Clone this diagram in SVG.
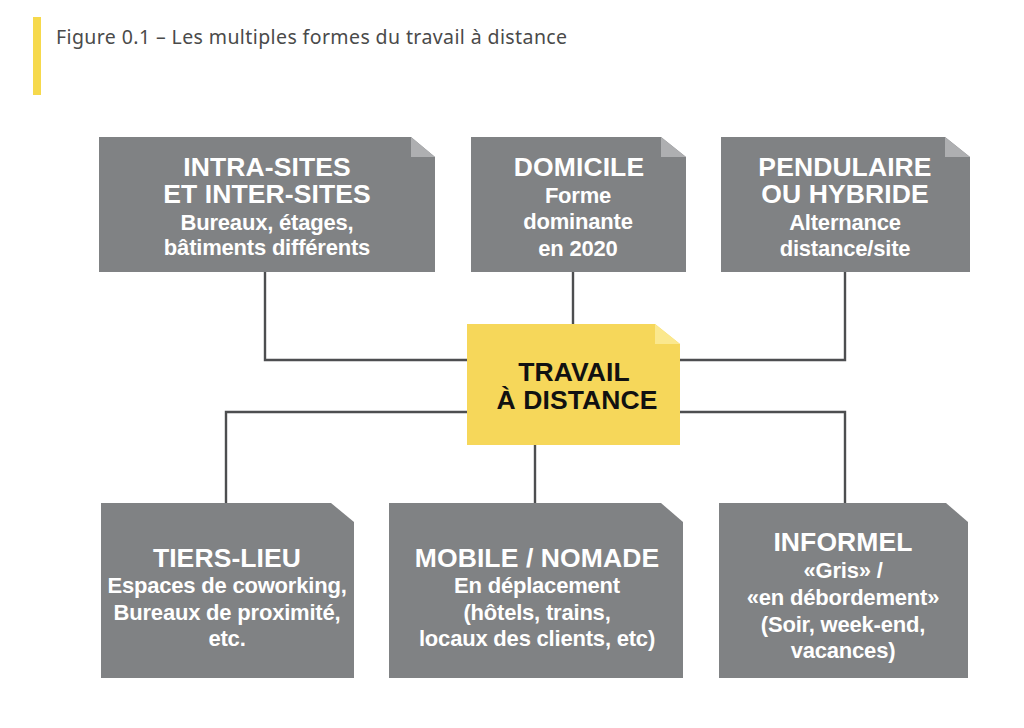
<svg xmlns="http://www.w3.org/2000/svg" width="1024" height="728" viewBox="0 0 1024 728">
<style>
.n{fill:#808284}
.f{fill:#aeafb1}
.c{fill:none;stroke:#4d4e50;stroke-width:2.4}
text{font-family:"Liberation Sans",Arial,sans-serif;font-weight:700;text-anchor:middle;fill:#fff}
.h{font-size:26.5px;letter-spacing:.1px}
.s{font-size:22px;letter-spacing:-.2px}
.d{fill:#111;font-size:26.5px;letter-spacing:.1px}
.t{font-family:"Noto Sans",sans-serif;font-weight:400;font-size:19.5px;letter-spacing:.4px;fill:#4a4a4a;text-anchor:start}
</style>
<rect width="1024" height="728" fill="#fff"/>
<rect x="33" y="17" width="8" height="78" fill="#f6d94c"/>
<text class="t" x="56" y="44">Figure 0.1 – Les multiples formes du travail à distance</text>
<g id="connectors">
<path class="c" d="M265 272V360H467"/>
<path class="c" d="M573 272V324"/>
<path class="c" d="M845 272V360H680"/>
<path class="c" d="M467 412H226V503"/>
<path class="c" d="M535 445V503"/>
<path class="c" d="M680 412H845V503"/>
</g>
<g id="intra-sites">
<path class="n" d="M99 137H411L435 157V272H99Z"/><path class="f" d="M411 137L435 157H411Z"/>
<text class="h" x="267" y="176">INTRA-SITES</text><text class="h" x="267" y="203">ET INTER-SITES</text>
<text class="s" x="267" y="230">Bureaux, étages,</text><text class="s" x="267" y="255">bâtiments différents</text>
</g>
<g id="domicile">
<path class="n" d="M471 137H661L686 157V272H471Z"/><path class="f" d="M661 137L686 157H661Z"/>
<text class="h" x="579" y="176">DOMICILE</text>
<text class="s" x="578" y="203">Forme</text><text class="s" x="578" y="229">dominante</text><text class="s" x="578" y="256">en 2020</text>
</g>
<g id="pendulaire">
<path class="n" d="M721 137H945L970 157V272H721Z"/><path class="f" d="M945 137L970 157H945Z"/>
<text class="h" x="845" y="176">PENDULAIRE</text><text class="h" x="845" y="203">OU HYBRIDE</text>
<text class="s" x="845" y="230">Alternance</text><text class="s" x="845" y="256">distance/site</text>
</g>
<g id="travail">
<path d="M467 324H655L680 344V445H467Z" fill="#f6d75a"/><path d="M655 324L680 344H655Z" fill="#fbe88e"/>
<text class="d" x="574" y="381">TRAVAIL</text><text class="d" x="577" y="409">À DISTANCE</text>
</g>
<g id="tiers-lieu">
<path class="n" d="M101 503H331L354 522V678H101Z"/>
<text class="h" x="227" y="567">TIERS-LIEU</text>
<text class="s" x="227" y="593">Espaces de coworking,</text><text class="s" x="227" y="620">Bureaux de proximité,</text><text class="s" x="227" y="646">etc.</text>
</g>
<g id="mobile">
<path class="n" d="M389 503H661L683 522V678H389Z"/>
<text class="h" x="537" y="567">MOBILE / NOMADE</text>
<text class="s" x="537" y="593">En déplacement</text><text class="s" x="537" y="620">(hôtels, trains,</text><text class="s" x="537" y="646">locaux des clients, etc)</text>
</g>
<g id="informel">
<path class="n" d="M719 503H946L968 522V678H719Z"/>
<text class="h" x="843" y="551">INFORMEL</text>
<text class="s" x="843" y="578">«Gris» /</text><text class="s" x="843" y="605">«en débordement»</text><text class="s" x="843" y="632">(Soir, week-end,</text><text class="s" x="843" y="658">vacances)</text>
</g>
</svg>
